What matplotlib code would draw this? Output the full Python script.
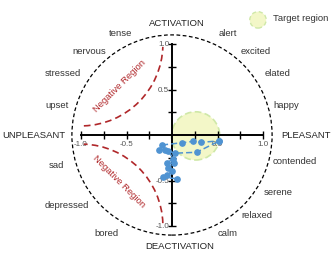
import numpy as np
import matplotlib.pyplot as plt
from matplotlib.patches import Circle, Arc

plt.rcParams['font.family'] = ['Liberation Sans', 'DejaVu Sans']

# emotion words around the circumplex (text centres, data units)
words = ["tense", "alert", "nervous", "excited", "stressed", "elated", "upset", "happy",
         "sad", "contended", "depressed", "serene", "bored", "relaxed", "calm"]
word_x = [-0.57, 0.615, -0.91, 0.92, -1.20, 1.155, -1.265, 1.255,
          -1.265, 1.35, -1.155, 1.165, -0.715, 0.935, 0.615]
word_y = [1.12, 1.12, 0.92, 0.92, 0.68, 0.68, 0.32, 0.32,
          -0.33, -0.29, -0.78, -0.63, -1.08, -0.88, -1.08]

ticks = [-1.0, -0.75, -0.5, -0.25, 0.25, 0.5, 0.75, 1.0]
tick_labels = ["-1.0", "", "-0.5", "", "", "0.5", "", "1.0"]

# trajectories of participants (valence, arousal)
traj1_x = [-0.11, 0.11, 0.23, 0.32, 0.52]
traj1_y = [-0.11, -0.085, -0.07, -0.08, -0.065]
traj2_x = [-0.14, -0.08, 0.03, 0.27, 0.52]
traj2_y = [-0.165, -0.16, -0.20, -0.19, -0.065]
traj3_x = [-0.04, 0.015, -0.06, 0.02, -0.045, 0.0, -0.06, -0.10, 0.05]
traj3_y = [-0.18, -0.26, -0.31, -0.31, -0.365, -0.40, -0.445, -0.465, -0.48]

target_center = (0.26, -0.01)
target_radius = 0.265

fig = plt.figure(figsize=(3.32, 2.61), dpi=100)
ax = fig.add_axes([0, 0, 1, 1])
ax.set_xlim(-172 / 91, (332 - 172) / 91)
ax.set_ylim(-(261 - 135) / 91, 135 / 91)
ax.set_facecolor("white")

# target region
ax.add_patch(Circle(target_center, target_radius, facecolor="#f3f7c8",
                    edgecolor="#cfe8a8", lw=1.2, ls=(0, (4, 2)), zorder=1))

# negative regions
ax.add_patch(Arc((-1, 1), 1.8, 1.8, theta1=272, theta2=358, color="#b0272a",
                 lw=1.2, ls=(0, (4, 2.5)), zorder=2))
ax.add_patch(Arc((-1, -1), 1.8, 1.8, theta1=2, theta2=88, color="#b0272a",
                 lw=1.2, ls=(0, (4, 2.5)), zorder=2))
ax.text(-0.58, 0.54, "Negative Region", rotation=45, color="#b0272a", fontsize=6.8,
        ha="center", va="center")
ax.text(-0.58, -0.51, "Negative Region", rotation=-45, color="#b0272a", fontsize=6.8,
        ha="center", va="center")

# outer circle
ax.add_patch(Circle((0, 0), 1.1, fill=False, edgecolor="black", lw=0.9,
                    ls=(0, (3, 2)), zorder=2))

# axes through origin
for s in ["top", "right"]:
    ax.spines[s].set_visible(False)
ax.spines["left"].set_position(("data", 0))
ax.spines["bottom"].set_position(("data", 0))
ax.spines["left"].set_bounds(-1, 1)
ax.spines["bottom"].set_bounds(-1, 1)
for s in ["left", "bottom"]:
    ax.spines[s].set_linewidth(1.4)
    ax.spines[s].set_zorder(3)
ax.set_xticks(ticks)
ax.set_xticklabels(tick_labels)
ax.set_yticks(ticks)
ax.set_yticklabels(tick_labels)
ax.tick_params(direction="inout", length=6, width=1, colors="black",
               labelsize=5.8, labelcolor="#555555", pad=1)
ax.tick_params(axis="y", pad=-1)

# data
for tx, ty in [(traj1_x, traj1_y), (traj2_x, traj2_y), (traj3_x, traj3_y)]:
    ax.plot(tx, ty, color="#4f93d2", ls=(0, (4, 2)), lw=1.1, marker="o",
            markersize=3.8, zorder=4, clip_on=False)

# words
for w, x, y in zip(words, word_x, word_y):
    ax.text(x, y, w, fontsize=6.8, color="#333333", ha="center", va="center")
ax.text(0.055, 1.22, "ACTIVATION", fontsize=6.8, color="#222222", ha="center", va="center")
ax.text(0.085, -1.23, "DEACTIVATION", fontsize=6.8, color="#222222", ha="center", va="center")
ax.text(-1.865, -0.01, "UNPLEASANT", fontsize=6.8, color="#222222", ha="left", va="center")
ax.text(1.47, 0.0, "PLEASANT", fontsize=6.8, color="#222222", ha="center", va="center")

# legend
ax.add_patch(Circle((0.945, 1.265), 0.09, facecolor="#f3f7c8", edgecolor="#cfe8a8",
                    lw=1.0, ls=(0, (3, 2)), clip_on=False))
ax.text(1.11, 1.275, "Target region", fontsize=6.8, color="#333333", ha="left", va="center")

fig.savefig("out.png", dpi=100)
